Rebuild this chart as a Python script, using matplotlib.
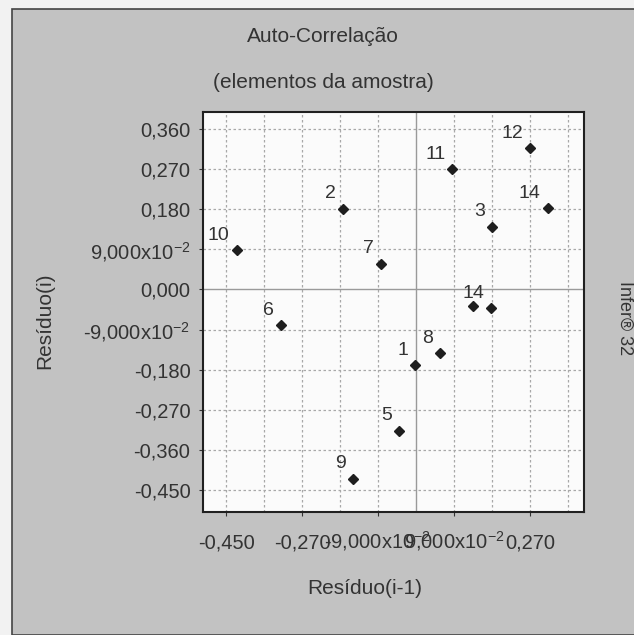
import matplotlib
matplotlib.use("Agg")
import matplotlib.pyplot as plt
from matplotlib.patches import Rectangle
from matplotlib.ticker import FixedLocator, FixedFormatter

# Residue pairs (elementos da amostra)
labels = ['1', '2', '3', '', '14', '5', '6', '7', '8', '9', '10', '11', '12', '14']
res_prev = [-0.002, -0.174, 0.181, 0.136, 0.178, -0.040, -0.320, -0.083, 0.057, -0.150,
            -0.425, 0.086, 0.270, 0.312]
res_curr = [-0.170, 0.181, 0.141, -0.037, -0.042, -0.317, -0.080, 0.058, -0.143, -0.424,
            0.088, 0.270, 0.317, 0.182]

x_ticks = [-0.45, -0.27, -0.09, 0.09, 0.27]
x_tick_labels = ['-0,450', '-0,270', '-9,000x10$^{-2}$', '9,000x10$^{-2}$', '0,270']
y_ticks = [-0.45, -0.36, -0.27, -0.18, -0.09, 0.0, 0.09, 0.18, 0.27, 0.36]
y_tick_labels = ['-0,450', '-0,360', '-0,270', '-0,180', '-9,000x10$^{-2}$', '0,000',
                 '9,000x10$^{-2}$', '0,180', '0,270', '0,360']
grid_lines = [-0.45, -0.36, -0.27, -0.18, -0.09, 0.09, 0.18, 0.27, 0.36]

plt.rcParams['font.family'] = ['Liberation Sans', 'DejaVu Sans']
plt.rcParams['mathtext.fontset'] = 'custom'
plt.rcParams['mathtext.rm'] = 'Liberation Sans'
plt.rcParams['mathtext.default'] = 'regular'

W, H = 634, 635
txt = '#333333'
fig = plt.figure(figsize=(W / 100, H / 100), dpi=100, facecolor='#f2f2f2')

# outer gray panel with dark border (kept behind the axes)
fig.patches.append(Rectangle((12 / W, 0), 1.0, 1 - 9 / H, transform=fig.transFigure,
                             facecolor='#c2c2c2', edgecolor='#444444', linewidth=1.2,
                             zorder=-10))

ax = fig.add_axes([203 / W, 1 - 512 / H, 381 / W, 400 / H])
ax.set_facecolor('#fbfbfb')
ax.set_xlim(-0.5045, 0.398)
ax.set_ylim(-0.499, 0.398)

for g in grid_lines:
    ax.axvline(g, color='#a8a8a8', lw=0.9, ls=(0, (2, 2)), zorder=1)
    ax.axhline(g, color='#a8a8a8', lw=0.9, ls=(0, (2, 2)), zorder=1)
ax.axvline(0, color='#9a9a9a', lw=1.0, zorder=1)
ax.axhline(0, color='#9a9a9a', lw=1.0, zorder=1)

ax.plot(res_prev, res_curr, ls='none', marker='D', ms=5.5, color='#1e1e1e', zorder=3)
for lab, xv, yv in zip(labels, res_prev, res_curr):
    ax.annotate(lab, (xv, yv), xytext=(-5, 7.5), textcoords='offset points',
                ha='right', va='baseline', fontsize=14, color=txt)

ax.xaxis.set_major_locator(FixedLocator(x_ticks))
ax.xaxis.set_major_formatter(FixedFormatter(x_tick_labels))
ax.yaxis.set_major_locator(FixedLocator(y_ticks))
ax.yaxis.set_major_formatter(FixedFormatter(y_tick_labels))
ax.tick_params(axis='both', direction='out', length=3, width=0.8, colors='#333333',
               labelsize=14.5, labelcolor=txt)
ax.tick_params(axis='x', pad=23)
ax.tick_params(axis='y', pad=6)
for t in ax.get_xticklabels():
    t.set_verticalalignment('baseline')

for s in ax.spines.values():
    s.set_color('#202020')
    s.set_linewidth(1.5)

fig.text(323 / W, 1 - 36 / H, 'Auto-Correlação', ha='center', va='center',
         fontsize=15, color=txt)
fig.text(323 / W, 1 - 82 / H, '(elementos da amostra)', ha='center', va='center',
         fontsize=15, color=txt)
fig.text(365 / W, 1 - 588 / H, 'Resíduo(i-1)', ha='center', va='center',
         fontsize=15, color=txt)
fig.text(45 / W, 1 - 321 / H, 'Resíduo(i)', ha='center', va='center', rotation=90,
         fontsize=15, color=txt)
fig.text(625 / W, 1 - 318 / H, 'Infer® 32', ha='center', va='center', rotation=270,
         fontsize=13, color=txt)

fig.savefig('out.png', dpi=100, facecolor=fig.get_facecolor())
